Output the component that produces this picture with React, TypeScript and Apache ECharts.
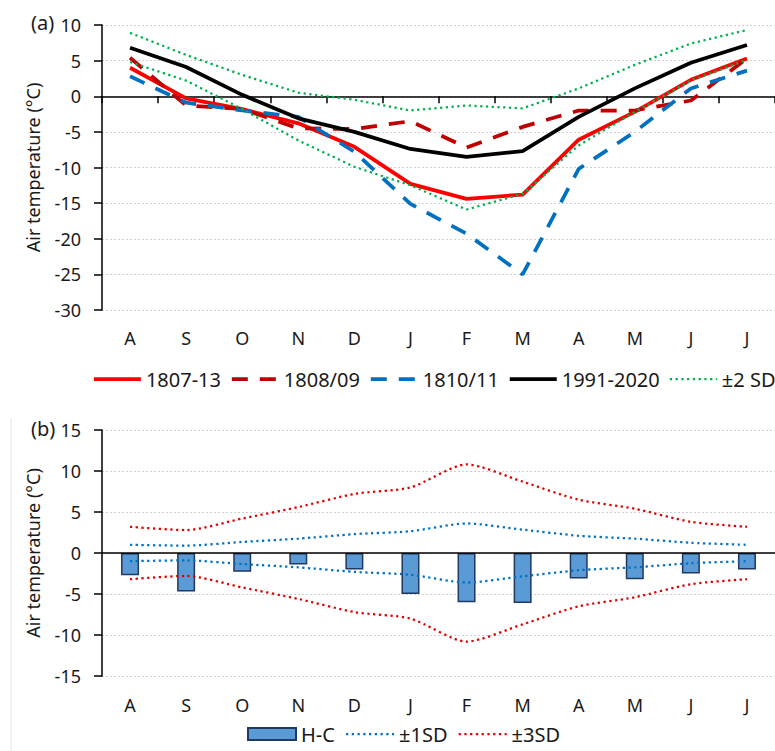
import React, { useEffect, useRef } from "react";
import * as echarts from "echarts";

const months = ["A", "S", "O", "N", "D", "J", "F", "M", "A", "M", "J", "J"];

// Panel (a) air temperature (°C)
const t1807_13 = [4.0, -0.3, -1.8, -3.8, -7.1, -12.3, -14.4, -13.8, -6.1, -2.2, 2.3, 5.3];
const t1808_09 = [5.4, -1.3, -1.8, -4.5, -4.6, -3.5, -7.2, -4.3, -2.0, -2.0, -0.6, 5.3];
const t1810_11 = [2.8, -0.9, -2.0, -2.9, -7.8, -15.1, -19.3, -25.0, -10.2, -5.0, 1.1, 3.6];
const t1991_2020 = [6.8, 4.1, 0.2, -3.1, -5.0, -7.4, -8.5, -7.7, -2.9, 1.1, 4.7, 7.2];
const plus2SD = [8.9, 5.8, 3.0, 0.5, -0.5, -2.0, -1.3, -1.7, 1.1, 4.4, 7.4, 9.3];
const minus2SD = [4.8, 2.2, -1.8, -6.2, -9.9, -12.5, -15.9, -13.7, -6.9, -2.2, 2.2, 5.1];

// Panel (b) differences and SD bands
const hMinusC = [-2.7, -4.7, -2.3, -1.4, -2.0, -5.0, -6.0, -6.1, -3.1, -3.2, -2.5, -2.0];
const sd1 = [1.0, 0.9, 1.35, 1.75, 2.3, 2.65, 3.6, 2.85, 2.1, 1.75, 1.25, 1.0];
const sd3 = [3.2, 2.8, 4.2, 5.6, 7.2, 8.0, 10.8, 8.7, 6.5, 5.4, 3.8, 3.2];

const FONT = "Noto Sans";
const TXT = "#1a1a1a";

export default function App() {
  const ref = useRef<HTMLDivElement>(null);

  useEffect(() => {
    if (!ref.current) return;
    const chart = echarts.init(ref.current, null, { renderer: "svg" });

    const gridLine = { show: true, lineStyle: { color: "#d0d0d0", width: 1, type: [2, 2] as any } };
    const axisLineBlack = { show: true, lineStyle: { color: "#000", width: 1.5 } };

    const neg = (a: number[]) => a.map((v) => -v);

    const option: any = {
      animation: false,
      backgroundColor: "#fff",
      textStyle: { fontFamily: FONT, color: TXT },
      grid: [
        { left: 102, top: 25, width: 673, height: 285, containLabel: false },
        { left: 102, top: 430, width: 673, height: 246, containLabel: false },
      ],
      xAxis: [
        {
          type: "category",
          gridIndex: 0,
          data: months,
          boundaryGap: true,
          axisLine: axisLineBlack,
          axisTick: { show: true, length: 7, lineStyle: { color: "#000", width: 1.5 } },
          axisLabel: { fontSize: 18, color: TXT, fontFamily: FONT, margin: 19 },
          splitLine: { show: false },
        },
        {
          type: "category",
          gridIndex: 1,
          data: months,
          boundaryGap: true,
          axisLine: { show: false },
          axisTick: { show: false },
          axisLabel: { fontSize: 18, color: TXT, fontFamily: FONT, margin: 20 },
          splitLine: { show: false },
        },
      ],
      yAxis: [
        {
          type: "value",
          gridIndex: 0,
          min: -30,
          max: 10,
          interval: 5,
          name: "Air temperature (°C)",
          nameLocation: "middle",
          nameGap: 60,
          nameTextStyle: { fontSize: 18, color: TXT, fontFamily: FONT },
          axisLine: axisLineBlack,
          axisTick: { show: true, length: 8, lineStyle: { color: "#000", width: 1.5 } },
          axisLabel: { fontSize: 18, color: TXT, fontFamily: FONT, margin: 21 },
          splitLine: gridLine,
        },
        {
          type: "value",
          gridIndex: 1,
          min: -15,
          max: 15,
          interval: 5,
          name: "Air temperature (°C)",
          nameLocation: "middle",
          nameGap: 60,
          nameTextStyle: { fontSize: 18, color: TXT, fontFamily: FONT },
          axisLine: axisLineBlack,
          axisTick: { show: true, length: 8, lineStyle: { color: "#000", width: 1.5 } },
          axisLabel: { fontSize: 18, color: TXT, fontFamily: FONT, margin: 21 },
          splitLine: gridLine,
        },
      ],
      legend: [
        {
          left: 92,
          top: 369,
          width: 760,
          padding: 0,
          itemWidth: 47,
          itemHeight: 14,
          itemGap: 9,
          itemStyle: { opacity: 0 },
          lineStyle: { width: "inherit" },
          textStyle: { fontSize: 20, color: TXT, fontFamily: FONT },
          data: ["1807-13", "1808/09", "1810/11", "1991-2020", "±2 SD"],
        },
        {
          left: 247,
          top: 724,
          padding: 0,
          itemWidth: 48,
          itemHeight: 12,
          itemGap: 10,
          itemStyle: { opacity: 0 },
          lineStyle: { width: "inherit" },
          textStyle: { fontSize: 20, color: TXT, fontFamily: FONT },
          data: [
            { name: "H-C", icon: "rect", itemStyle: { opacity: 1 } },
            "±1SD",
            "±3SD",
          ],
        },
      ],
      graphic: [
        {
          type: "text",
          left: 31,
          top: 12,
          style: { text: "(a)", fontSize: 20, fontFamily: FONT, fill: TXT },
        },
        {
          type: "text",
          left: 31,
          top: 418,
          style: { text: "(b)", fontSize: 20, fontFamily: FONT, fill: TXT },
        },
        {
          type: "line",
          shape: { x1: 11, y1: 418, x2: 11, y2: 751 },
          style: { stroke: "#e6e6e6", lineWidth: 1 },
        },
      ],
      series: [
        {
          name: "1807-13",
          type: "line",
          xAxisIndex: 0,
          yAxisIndex: 0,
          data: t1807_13,
          symbol: "none",
          lineStyle: { color: "#ff0000", width: 3.75 },
          itemStyle: { color: "#ff0000" },
          z: 3,
        },
        {
          name: "1808/09",
          type: "line",
          xAxisIndex: 0,
          yAxisIndex: 0,
          data: t1808_09,
          symbol: "none",
          lineStyle: { color: "#c00000", width: 3.75, type: [16, 12] },
          itemStyle: { color: "#c00000" },
          z: 3,
        },
        {
          name: "1810/11",
          type: "line",
          xAxisIndex: 0,
          yAxisIndex: 0,
          data: t1810_11,
          symbol: "none",
          lineStyle: { color: "#0070c0", width: 3.75, type: [16, 12] },
          itemStyle: { color: "#0070c0" },
          z: 3,
        },
        {
          name: "1991-2020",
          type: "line",
          xAxisIndex: 0,
          yAxisIndex: 0,
          data: t1991_2020,
          symbol: "none",
          lineStyle: { color: "#000000", width: 3.75 },
          itemStyle: { color: "#000000" },
          z: 3,
        },
        {
          name: "±2 SD",
          type: "line",
          xAxisIndex: 0,
          yAxisIndex: 0,
          data: plus2SD,
          symbol: "none",
          lineStyle: { color: "#00b050", width: 2.25, type: [2.25, 3.5] },
          itemStyle: { color: "#00b050" },
          z: 4,
        },
        {
          name: "±2 SD",
          type: "line",
          xAxisIndex: 0,
          yAxisIndex: 0,
          data: minus2SD,
          symbol: "none",
          lineStyle: { color: "#00b050", width: 2.25, type: [2.25, 3.5] },
          itemStyle: { color: "#00b050" },
          z: 4,
        },
        {
          name: "H-C",
          type: "bar",
          xAxisIndex: 1,
          yAxisIndex: 1,
          data: hMinusC,
          barWidth: 18,
          itemStyle: { color: "#5b9bd5", borderColor: "#1f3864", borderWidth: 1.5 },
          markLine: {
            silent: true,
            symbol: ["none", "none"],
            label: { show: false },
            lineStyle: { color: "#000", width: 1.5, type: "solid" },
            data: [{ yAxis: 0 }],
          },
          z: 2,
        },
        {
          name: "±1SD",
          type: "line",
          xAxisIndex: 1,
          yAxisIndex: 1,
          data: sd1,
          symbol: "none",
          smooth: 0.25,
          lineStyle: { color: "#0070c0", width: 2.25, type: [2.25, 3.5] },
          itemStyle: { color: "#0070c0" },
          z: 4,
        },
        {
          name: "±1SD",
          type: "line",
          xAxisIndex: 1,
          yAxisIndex: 1,
          data: neg(sd1),
          symbol: "none",
          smooth: 0.25,
          lineStyle: { color: "#0070c0", width: 2.25, type: [2.25, 3.5] },
          itemStyle: { color: "#0070c0" },
          z: 4,
        },
        {
          name: "±3SD",
          type: "line",
          xAxisIndex: 1,
          yAxisIndex: 1,
          data: sd3,
          symbol: "none",
          smooth: 0.25,
          lineStyle: { color: "#e00000", width: 2.25, type: [2.25, 3.5] },
          itemStyle: { color: "#e00000" },
          z: 4,
        },
        {
          name: "±3SD",
          type: "line",
          xAxisIndex: 1,
          yAxisIndex: 1,
          data: neg(sd3),
          symbol: "none",
          smooth: 0.25,
          lineStyle: { color: "#e00000", width: 2.25, type: [2.25, 3.5] },
          itemStyle: { color: "#e00000" },
          z: 4,
        },
      ],
    };

    chart.setOption(option);
    return () => chart.dispose();
  }, []);

  return (
    <div
      ref={ref}
      style={{ position: "fixed", left: 0, top: 0, width: 775, height: 751, background: "#fff" }}
    />
  );
}
